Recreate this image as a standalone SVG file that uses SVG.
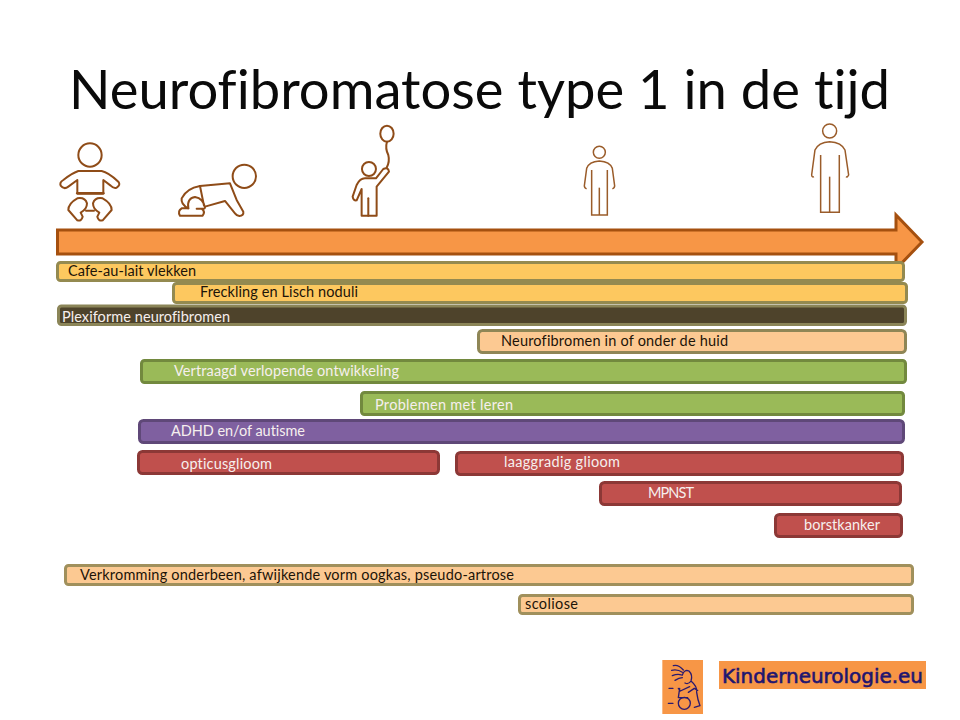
<svg xmlns="http://www.w3.org/2000/svg" width="960" height="720" viewBox="0 0 960 720">
<style>
text{font-family:"Lato","Liberation Sans",sans-serif;font-size:14.5px;fill:#1c1408;font-variant-ligatures:none}
.w{fill:#f6efee}
.ic{fill:none;stroke:#8f4c18;stroke-width:6;stroke-linejoin:round;stroke-linecap:round}
.thin{stroke:#9a5c2a;stroke-width:4.500;stroke-linejoin:miter;stroke-linecap:butt}
.bar{stroke-width:3}
.y{fill:#fdc85f;stroke:#948a50}
.d{fill:#4e432b;stroke:#8b8558}
.p{fill:#fcc992;stroke:#8f8656}
.g{fill:#9aba58;stroke:#72893e}
.v{fill:#7f60a0;stroke:#5f4878}
.r{fill:#c0504d;stroke:#8c3836}
.b{fill:#fcc992;stroke:#a0905c}
</style>
<rect width="960" height="720" fill="#fff"/>
<text x="69" y="109" style="font-size:54px;fill:#0a0a0a" textLength="821" lengthAdjust="spacingAndGlyphs">Neurofibromatose type 1 in de tijd</text>
<g id="icon-baby" class="ic" transform="translate(40 115) scale(.3333)">
<circle cx="150" cy="120" r="35"/>
<path d="M115 168H185Q205 172 235 200Q243 210 230 218Q222 222 212 212L190 195V235H112V195L85 215Q72 225 62 212Q58 202 70 195Q95 175 115 168Z"/>
<path d="M112 235H190" stroke-width="8"/>
<path d="M112 250Q135 246 141 265Q141 283 122 293L128 305Q124 320 112 316L85 285Q85 265 112 250Z"/>
<path d="M188 250Q165 246 159 265Q159 283 178 293L172 305Q176 320 188 316L215 285Q215 265 188 250Z"/>
<path d="M138 287H162"/>
</g>
<g id="icon-crawler" class="ic" transform="translate(40 115) scale(.3333)">
<circle cx="613" cy="184" r="35"/>
<path d="M480 213L570 205L590 255L610 290Q612 302 598 303Q590 302 585 295L555 258L495 275"/>
<path d="M480 213Q440 220 425 250Q422 268 445 280H425Q412 288 420 302H488Q497 290 485 281H470"/>
<path d="M445 280Q440 250 465 246Q490 250 495 278Q494 282 488 281M480 213L492 272"/>
</g>
<g id="icon-child" class="ic" transform="translate(40 115) scale(.3333)">
<circle cx="987" cy="162" r="21"/>
<ellipse cx="1041" cy="56" rx="20" ry="24"/>
<path d="M1041 80Q1035 100 1045 120Q1050 140 1040 158"/>
<path d="M975 190H1008L1030 162Q1045 155 1047 170L1010 215V302H965V222L950 256Q940 258 938 245L950 210Q960 190 975 190Z"/>
<path d="M985 250V302"/>
</g>
<g id="icon-teen" class="ic thin" transform="translate(560 115) scale(.3333)">
<circle cx="118" cy="112" r="18"/>
<path d="M95 165V300H142V165M80 220Q75 222 73 213L80 160Q87 140 118 138Q150 140 157 160L164 213Q162 222 157 220"/>
<path d="M118 218V300"/>
</g>
<g id="icon-adult" class="ic thin" transform="translate(560 115) scale(.3333)">
<circle cx="809" cy="48" r="21"/>
<path d="M782 120V292H838V120M762 185Q756 188 755 180L765 105Q775 82 809 80Q845 82 855 105L866 180Q862 188 858 185"/>
<path d="M809 185V292"/>
</g>
<g id="timeline-arrow"><path d="M57.500 230H896V215L922 242L896 269V254H57.500Z" fill="#f79646" stroke="#a5500f" stroke-width="3"/></g>
<g id="bar-cafe"><rect class="bar y" x="57.500" y="262.500" width="846" height="18" rx="3"/><text x="68" y="276" textLength="128">Cafe-au-lait vlekken</text></g>
<g id="bar-freckling"><rect class="bar y" x="173.500" y="283.500" width="733" height="19" rx="3"/><text x="200" y="297" textLength="158">Freckling en Lisch noduli</text></g>
<g id="bar-plexiforme"><rect class="bar d" x="58.500" y="306" width="847" height="18.500" rx="3"/><text class="w" x="62" y="322" textLength="168">Plexiforme neurofibromen</text></g>
<g id="bar-neurofibromen"><rect class="bar p" x="478.500" y="330.500" width="427" height="22" rx="4"/><text x="501" y="346" textLength="227">Neurofibromen  in of onder  de huid</text></g>
<g id="bar-vertraagd"><rect class="bar g" x="141.500" y="360.500" width="764" height="22" rx="3"/><text class="w" x="174" y="376" textLength="225">Vertraagd verlopende ontwikkeling</text></g>
<g id="bar-leren"><rect class="bar g" x="361.500" y="392.500" width="542" height="22" rx="3"/><text class="w" x="375" y="410" textLength="138">Problemen  met leren</text></g>
<g id="bar-adhd"><rect class="bar v" x="139.500" y="420.500" width="764" height="22" rx="4"/><text class="w" x="171" y="436" textLength="134">ADHD en/of autisme</text></g>
<g id="bar-opticus"><rect class="bar r" x="138.500" y="451.500" width="300" height="22" rx="4"/><text class="w" x="181" y="469" textLength="91">opticusglioom</text></g>
<g id="bar-laaggradig"><rect class="bar r" x="456.500" y="452.500" width="446" height="22" rx="4"/><text class="w" x="504" y="467" textLength="116">laaggradig glioom</text></g>
<g id="bar-mpnst"><rect class="bar r" x="600.500" y="482.500" width="300" height="22" rx="4"/><text class="w" x="648" y="498" textLength="46">MPNST</text></g>
<g id="bar-borstkanker"><rect class="bar r" x="775.500" y="514.500" width="126" height="22" rx="4"/><text class="w" x="804" y="530" textLength="76">borstkanker</text></g>
<g id="bar-verkromming"><rect class="bar b" x="65.500" y="565.500" width="847" height="19" rx="3"/><text x="80" y="580" textLength="434">Verkromming  onderbeen,  afwijkende vorm  oogkas, pseudo-artrose</text></g>
<g id="bar-scoliose"><rect class="bar b" x="519.500" y="595.500" width="393" height="18" rx="3"/><text x="525" y="609" textLength="53">scoliose</text></g>
<g id="logo-figure" transform="translate(655 655) scale(.3333)" fill="none" stroke="#2a1a70" stroke-width="4" stroke-linecap="round" stroke-linejoin="round">
<rect x="22" y="15" width="122" height="162" fill="#f79646" stroke="none"/>
<path d="M82 60Q88 42 102 48Q114 60 108 78Q100 90 90 84M108 78Q128 95 125 112Q128 135 135 152L118 157M104 95L76 108L70 100M100 112L118 100L128 106M74 100L70 128H98"/>
<circle cx="88" cy="145" r="18"/>
<path d="M85 45Q70 28 55 32M82 52Q68 42 50 46M80 60Q68 55 52 62M82 68Q72 68 60 76M42 100H54M40 145H54"/>
</g>
<g id="logo-text"><rect x="719" y="661" width="207" height="28" fill="#f79646"/><text x="722" y="683" style="font-family:'DejaVu Sans',sans-serif;font-size:20px;fill:#1f1570;stroke:#1f1570;stroke-width:.6" textLength="201" lengthAdjust="spacingAndGlyphs">Kinderneurologie.eu</text></g>
</svg>
